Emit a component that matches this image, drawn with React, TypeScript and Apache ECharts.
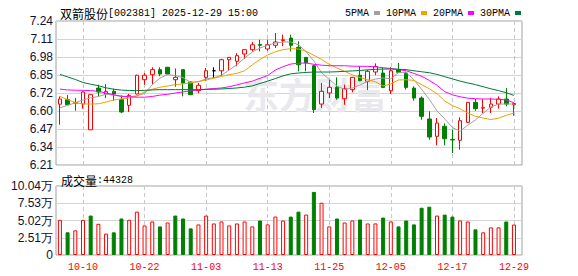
import React, { useEffect, useRef } from 'react';
import * as echarts from 'echarts';

const stockName = '双箭股份';
const stockCode = '002381';
const stamp = '2025-12-29 15:00';
const volumeTitle = '成交量';

const dates = [
  '2025-09-29', '2025-09-30', '2025-10-09', '2025-10-10', '2025-10-13', '2025-10-14', '2025-10-15', '2025-10-16', '2025-10-17', '2025-10-20',
  '2025-10-21', '2025-10-22', '2025-10-23', '2025-10-24', '2025-10-27', '2025-10-28', '2025-10-29', '2025-10-30', '2025-10-31', '2025-11-03',
  '2025-11-04', '2025-11-05', '2025-11-06', '2025-11-07', '2025-11-10', '2025-11-11', '2025-11-12', '2025-11-13', '2025-11-14', '2025-11-17',
  '2025-11-18', '2025-11-19', '2025-11-20', '2025-11-21', '2025-11-24', '2025-11-25', '2025-11-26', '2025-11-27', '2025-11-28', '2025-12-01',
  '2025-12-02', '2025-12-03', '2025-12-04', '2025-12-05', '2025-12-08', '2025-12-09', '2025-12-10', '2025-12-11', '2025-12-12', '2025-12-15',
  '2025-12-16', '2025-12-17', '2025-12-18', '2025-12-19', '2025-12-22', '2025-12-23', '2025-12-24', '2025-12-25', '2025-12-26', '2025-12-29',
];

const opens = [
  6.645, 6.677, 6.652, 6.646, 6.462, 6.76, 6.718, 6.737, 6.677, 6.637,
  6.718, 6.82, 6.856, 6.892, 6.909, 6.82, 6.892, 6.804, 6.742, 6.837,
  6.884, 6.884, 6.963, 6.952, 7.004, 7.035, 7.072, 7.04, 7.066, 7.10,
  7.118, 7.052, 6.98, 6.92, 6.646, 6.725, 6.766, 6.684, 6.749, 6.852,
  6.809, 6.875, 6.868, 6.741, 6.892, 6.868, 6.76, 6.689, 6.539, 6.415,
  6.487, 6.393, 6.387, 6.515, 6.658, 6.617, 6.623, 6.646, 6.682, 6.641,
];
const closes = [
  6.682, 6.641, 6.658, 6.732, 6.713, 6.732, 6.737, 6.718, 6.589, 6.708,
  6.852, 6.852, 6.892, 6.861, 6.861, 6.837, 6.796, 6.713, 6.78, 6.884,
  6.884, 6.963, 6.98, 6.992, 7.035, 7.07, 7.066, 7.07, 7.09, 7.106,
  7.066, 6.927, 6.94, 6.606, 6.737, 6.766, 6.689, 6.756, 6.837, 6.813,
  6.88, 6.915, 6.765, 6.884, 6.873, 6.765, 6.689, 6.558, 6.41, 6.51,
  6.398, 6.389, 6.527, 6.658, 6.613, 6.62, 6.646, 6.682, 6.646, 6.65,
];
const lows = [
  6.498, 6.638, 6.598, 6.613, 6.462, 6.701, 6.689, 6.67, 6.582, 6.589,
  6.715, 6.784, 6.789, 6.845, 6.856, 6.77, 6.701, 6.71, 6.725, 6.81,
  6.832, 6.845, 6.884, 6.916, 6.97, 7.023, 7.023, 7.027, 7.047, 7.06,
  7.023, 6.88, 6.88, 6.582, 6.618, 6.689, 6.677, 6.641, 6.73, 6.809,
  6.746, 6.853, 6.76, 6.718, 6.868, 6.75, 6.67, 6.534, 6.391, 6.351,
  6.351, 6.296, 6.32, 6.51, 6.598, 6.582, 6.582, 6.613, 6.63, 6.563,
];
const highs = [
  6.70, 6.71, 6.69, 6.737, 6.716, 6.784, 6.789, 6.756, 6.708, 6.718,
  6.855, 6.868, 6.909, 6.909, 6.912, 6.90, 6.892, 6.806, 6.797, 6.904,
  6.909, 6.97, 6.98, 7.01, 7.04, 7.09, 7.106, 7.106, 7.154, 7.142,
  7.142, 7.095, 6.98, 6.925, 6.797, 6.82, 6.837, 6.785, 6.84, 6.916,
  6.89, 6.937, 6.904, 6.909, 6.94, 6.877, 6.773, 6.701, 6.594, 6.546,
  6.508, 6.462, 6.551, 6.66, 6.682, 6.682, 6.69, 6.701, 6.76, 6.652,
];

const ma5 = [
  6.618, 6.637, 6.655, 6.675, 6.69, 6.70, 6.716, 6.71, 6.70, 6.697,
  6.705, 6.722, 6.784, 6.832, 6.856, 6.85, 6.835, 6.80, 6.805, 6.826,
  6.834, 6.852, 6.89, 6.928, 6.975, 7.018, 7.047, 7.066, 7.082, 7.09,
  7.09, 7.07, 7.02, 6.955, 6.87, 6.822, 6.775, 6.75, 6.76, 6.783,
  6.808, 6.825, 6.832, 6.827, 6.872, 6.87, 6.82, 6.752, 6.68, 6.597,
  6.54, 6.478, 6.452, 6.495, 6.532, 6.58, 6.625, 6.646, 6.646, 6.646,
];
const ma10 = [
  6.70, 6.678, 6.655, 6.647, 6.646, 6.648, 6.66, 6.675, 6.683, 6.69,
  6.703, 6.735, 6.752, 6.766, 6.775, 6.785, 6.79, 6.797, 6.808, 6.818,
  6.83, 6.844, 6.856, 6.866, 6.884, 6.926, 6.965, 6.997, 7.02, 7.035,
  7.042, 7.04, 7.023, 6.995, 6.965, 6.93, 6.904, 6.88, 6.855, 6.835,
  6.82, 6.805, 6.775, 6.79, 6.818, 6.82, 6.815, 6.785, 6.755, 6.72,
  6.668, 6.635, 6.612, 6.582, 6.558, 6.546, 6.535, 6.545, 6.565, 6.582,
];
const ma20 = [
  6.753, 6.747, 6.745, 6.744, 6.742, 6.737, 6.725, 6.712, 6.702, 6.698,
  6.695, 6.695, 6.70, 6.71, 6.716, 6.725, 6.733, 6.741, 6.747, 6.752,
  6.757, 6.761, 6.77, 6.783, 6.797, 6.81, 6.83, 6.85, 6.89, 6.913,
  6.932, 6.938, 6.94, 6.93, 6.924, 6.92, 6.92, 6.92, 6.917, 6.916,
  6.916, 6.912, 6.906, 6.90, 6.893, 6.884, 6.865, 6.845, 6.815, 6.78,
  6.735, 6.712, 6.698, 6.688, 6.684, 6.682, 6.682, 6.68, 6.676, 6.655,
];
const ma30 = [
  6.858, 6.84, 6.822, 6.80, 6.788, 6.777, 6.762, 6.752, 6.746, 6.743,
  6.742, 6.744, 6.747, 6.749, 6.749, 6.749, 6.749, 6.749, 6.749, 6.751,
  6.752, 6.754, 6.757, 6.761, 6.767, 6.776, 6.793, 6.81, 6.828, 6.848,
  6.862, 6.868, 6.872, 6.875, 6.875, 6.875, 6.877, 6.88, 6.883, 6.886,
  6.891, 6.894, 6.896, 6.897, 6.895, 6.892, 6.884, 6.877, 6.87, 6.858,
  6.842, 6.826, 6.81, 6.797, 6.785, 6.77, 6.755, 6.742, 6.727, 6.708,
];

const volumes = [
  51230, 33040, 35870, 51180, 57420, 45360, 31120, 32980, 53090, 51240,
  63110, 42960, 48830, 41580, 47310, 57390, 53140, 38720, 44470, 57360,
  45910, 48790, 43020, 45880, 48810, 41620, 50180, 44530, 55910, 50170,
  55890, 63080, 58830, 91790, 76030, 41590, 53120, 47280, 50230, 51620,
  45870, 45930, 54480, 48820, 41610, 50190, 44520, 68790, 70320, 57380,
  58810, 55920, 50210, 48770, 37330, 33010, 40180, 40230, 48790, 44328,
];

const priceTicks = ['6.21', '6.34', '6.47', '6.60', '6.72', '6.85', '6.98', '7.11', '7.24'];
const priceMin = 6.21;
const priceMax = 7.24;
const volumeTicks = ['0', '2.51万', '5.02万', '7.53万', '10.04万'];
const volumeMax = 100400;
const xTickLabels = ['10-10', '10-22', '11-03', '11-13', '11-25', '12-05', '12-17', '12-29'];

const maNames = ['5PMA', '10PMA', '20PMA', '30PMA'];
const maSeries = [ma5, ma10, ma20, ma30];
const maColors = ['#a0a0a0', '#f2a100', '#ff00ff', '#007a3a'];

const RED = '#ff0000';
const GREEN = '#008000';
const LABEL_COLOR = '#101030';
const MONO = 'Liberation Mono, DejaVu Sans Mono, monospace';
const CJK = 'Noto Sans CJK SC, sans-serif';

const isTick = (v: string) => xTickLabels.indexOf(String(v).slice(5)) >= 0;

export default function App() {
  const ref = useRef<HTMLDivElement>(null);
  useEffect(() => {
    if (!ref.current) return;
    const chart = echarts.init(ref.current, null, { renderer: 'svg' });

    const candleData = dates.map((d, i) => {
      const item: any = { value: [opens[i], closes[i], lows[i], highs[i]] };
      if (opens[i] === closes[i]) {
        item.itemStyle = { color: '#000', color0: '#000', borderColor: '#000', borderColor0: '#000', borderColorDoji: '#000' };
      }
      return item;
    });
    const volData = volumes.map((v, i) => {
      const up = i === 0 ? closes[i] >= opens[i] : closes[i] >= closes[i - 1];
      return {
        value: v,
        itemStyle: up
          ? { color: '#ffffff', borderColor: RED, borderWidth: 1 }
          : { color: GREEN, borderColor: GREEN, borderWidth: 1 },
      };
    });

    const dataLeft = 59.9;
    const dataWidth = 454.06;
    const splitDashed = {
      show: true,
      interval: (_i: number, v: string) => isTick(v),
      lineStyle: { color: '#c8c8c8', type: [4, 3] as any, width: 1 },
    };
    const richTitle = {
      c: { fontFamily: CJK, fontSize: 12, fontWeight: 'normal', color: '#000' },
      l: { fontFamily: MONO, fontSize: 10, fontWeight: 'normal', color: '#000' },
    };

    chart.setOption({
      animation: false,
      backgroundColor: '#ffffff',
      title: [
        {
          text: `{c|${stockName}}{l|[${stockCode}] ${stamp}}`,
          left: 55,
          top: 2,
          textStyle: { fontWeight: 'normal', rich: richTitle },
        },
        {
          text: `{c|${volumeTitle}}{l|:${volumes[volumes.length - 1]}}`,
          left: 56,
          top: 169,
          textStyle: { fontWeight: 'normal', rich: richTitle },
        },
      ],
      legend: {
        data: maNames,
        left: 340,
        top: 3,
        align: 'right',
        icon: 'rect',
        itemWidth: 6,
        itemHeight: 4,
        itemGap: 6,
        selectedMode: false,
        textStyle: { fontFamily: MONO, fontSize: 10, color: '#000' },
      },
      graphic: [
        {
          type: 'text',
          left: 243,
          top: 75,
          z: 1,
          silent: true,
          style: { text: '东方财富', fontSize: 36, fontWeight: 'bold', fill: '#e9e9ed', fontFamily: CJK },
        },
      ],
      grid: [
        { left: 56, top: 21, width: 466, height: 144, show: true, borderColor: '#a0a0a0', borderWidth: 1, backgroundColor: 'transparent', outerBoundsMode: 'none' },
        { left: dataLeft, top: 21, width: dataWidth, height: 144, outerBoundsMode: 'none' },
        { left: 56, top: 186, width: 466, height: 69, show: true, borderColor: '#a0a0a0', borderWidth: 1, backgroundColor: 'transparent', outerBoundsMode: 'none' },
        { left: dataLeft, top: 186, width: dataWidth, height: 69, outerBoundsMode: 'none' },
      ],
      xAxis: [
        { type: 'value', gridIndex: 0, min: 0, max: 1, show: false },
        {
          type: 'category', gridIndex: 1, data: dates, boundaryGap: false,
          axisLine: { show: false }, axisTick: { show: false }, axisLabel: { show: false },
          splitLine: splitDashed,
        },
        { type: 'value', gridIndex: 2, min: 0, max: 1, show: false },
        {
          type: 'category', gridIndex: 3, data: dates, boundaryGap: false,
          axisLine: { show: false }, axisTick: { show: false },
          axisLabel: {
            show: true,
            interval: (_i: number, v: string) => isTick(v),
            formatter: (v: string) => v.slice(5),
            color: RED, fontFamily: MONO, fontSize: 10, margin: 7,
          },
          splitLine: splitDashed,
        },
      ],
      yAxis: [
        {
          type: 'value', gridIndex: 0, min: 0, max: priceTicks.length - 1, interval: 1,
          axisLine: { show: false }, axisTick: { show: false },
          axisLabel: { formatter: (v: number) => priceTicks[v], color: LABEL_COLOR, fontFamily: 'Liberation Sans, Arial, sans-serif', fontSize: 12, margin: 3 },
          splitLine: { show: true, lineStyle: { color: '#d4d4d4', width: 1 } },
        },
        { type: 'value', gridIndex: 1, min: priceMin, max: priceMax, show: false, splitLine: { show: false } },
        {
          type: 'value', gridIndex: 2, min: 0, max: volumeTicks.length - 1, interval: 1,
          axisLine: { show: false }, axisTick: { show: false },
          axisLabel: { formatter: (v: number) => volumeTicks[v], color: LABEL_COLOR, fontFamily: 'Liberation Sans, Arial, sans-serif', fontSize: 12, margin: 3 },
          splitLine: { show: true, lineStyle: { color: '#d4d4d4', width: 1 } },
        },
        { type: 'value', gridIndex: 3, min: 0, max: volumeMax, show: false, splitLine: { show: false } },
      ],
      series: [
        {
          type: 'candlestick',
          name: 'K',
          xAxisIndex: 1,
          yAxisIndex: 1,
          data: candleData,
          barWidth: 4,
          clip: false,
          z: 3,
          itemStyle: {
            color: '#ffffff',
            color0: GREEN,
            borderColor: RED,
            borderColor0: GREEN,
            borderColorDoji: '#000',
            borderWidth: 1,
          },
        },
        ...maNames.map((n, k) => ({
          type: 'line',
          name: n,
          xAxisIndex: 1,
          yAxisIndex: 1,
          data: maSeries[k],
          showSymbol: false,
          symbol: 'none',
          clip: false,
          z: 4,
          color: maColors[k],
          lineStyle: { color: maColors[k], width: 1 },
        })),
        {
          type: 'bar',
          name: 'VOL',
          xAxisIndex: 3,
          yAxisIndex: 3,
          data: volData,
          barWidth: 4,
          clip: false,
          z: 3,
        },
      ],
    });
    return () => chart.dispose();
  }, []);
  return <div ref={ref} style={{ position: 'fixed', left: 0, top: 0, width: 578, height: 276, background: '#fff' }} />;
}
